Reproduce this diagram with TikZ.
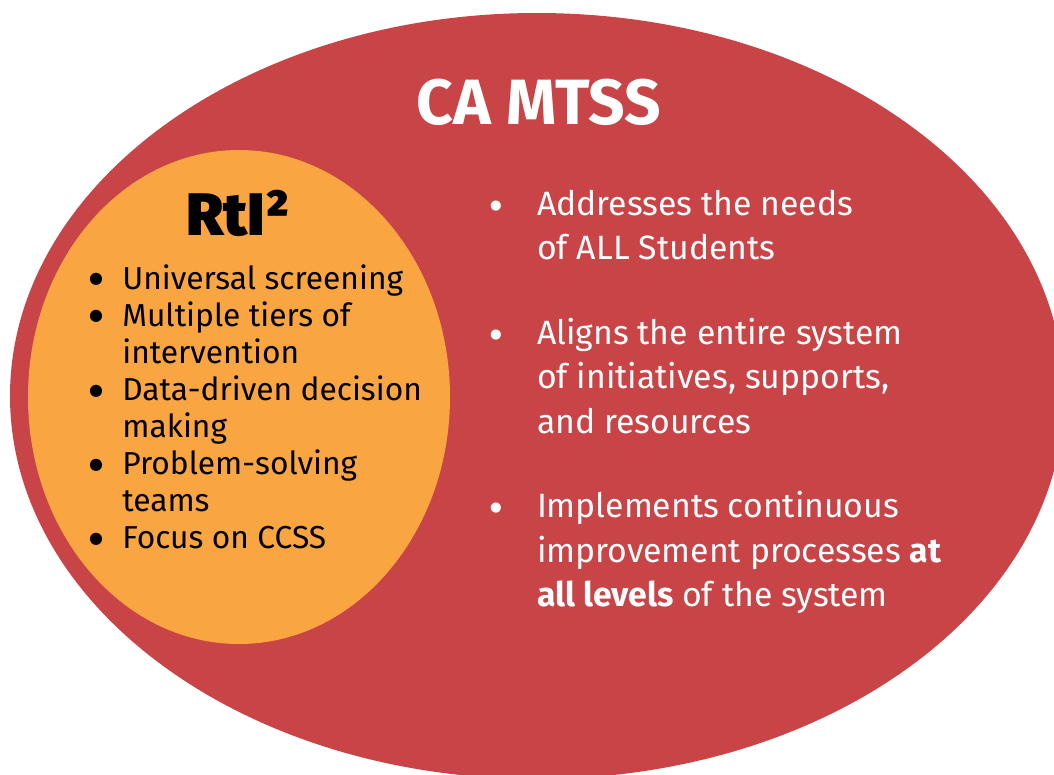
\documentclass[tikz,border=0pt]{standalone}
\usepackage{fontspec}
\setmainfont{Fira Sans}
\newfontfamily\heavyfont{Fira Sans Black}
\newfontfamily\symfont{DejaVu Sans}
\definecolor{mtssred}{RGB}{201,68,70}
\definecolor{rtiorange}{RGB}{249,165,65}
\newcommand{\bigbul}[2]{\raisebox{#2}{\symfont\fontsize{#1}{#1}\selectfont ●}}

\tikzset{every picture/.style={line width=0.75pt}}
\tikzset{
  listtext/.style={anchor=base west, inner sep=0, outer sep=0},
}

\begin{document}
\begin{tikzpicture}[x=0.75pt,y=0.75pt,yscale=-1,xscale=1]
        \useasboundingbox (0,0) rectangle (1054,775);
        \clip (0,0) rectangle (1054,775);

        %Shape: Ellipse [id:mtss] 
        \fill [mtssred] (537,396) ellipse [x radius=527, y radius=383];
        %Shape: Ellipse [id:rti] 
        \fill [rtiorange] (239,397) ellipse [x radius=211, y radius=247];

        %Text: title [id:mtsstitle] 
        \node [anchor=base, text=white, inner sep=0, font=\fontsize{48}{48}\selectfont\bfseries] (mtsstitle) at (539,124) {CA MTSS};
        %Text: title [id:rtititle] 
        \node [listtext, font=\heavyfont\fontsize{45}{45}\selectfont] (rtititle) at (186,235) {RtI²};

        %Text: list [id:rtilist] 
        \node [listtext, font=\fontsize{23.8}{27.85}\selectfont] (rtilist) at (89,289) {%
          \begin{tabular}[t]{@{}p{25pt}@{}l@{}}
          \bigbul{12}{4pt} & Universal screening\\
          \bigbul{12}{4pt} & Multiple tiers of\\
            & intervention\\
          \bigbul{12}{4pt} & Data-driven decision\\
            & making\\
          \bigbul{12}{4pt} & Problem-solving\\
            & teams\\
          \bigbul{12}{4pt} & Focus on CCSS
          \end{tabular}};
        %Text: list [id:mtsslist] 
        \node [listtext, text=white, font=\fontsize{25.3}{33.4}\selectfont] (mtsslist) at (490,215) {%
          \begin{tabular}[t]{@{}p{35.25pt}@{}l@{}}
          \bigbul{10}{4.5pt} & Addresses the needs\\
            & of ALL Students\\[30pt]
          \bigbul{10}{4.5pt} & Aligns the entire system\\
            & of initiatives, supports,\\
            & and resources\\[30pt]
          \bigbul{10}{4.5pt} & Implements continuous\\
            & improvement processes \textbf{at}\\
            & \textbf{all levels} of the system
          \end{tabular}};

\end{tikzpicture}
\end{document}
